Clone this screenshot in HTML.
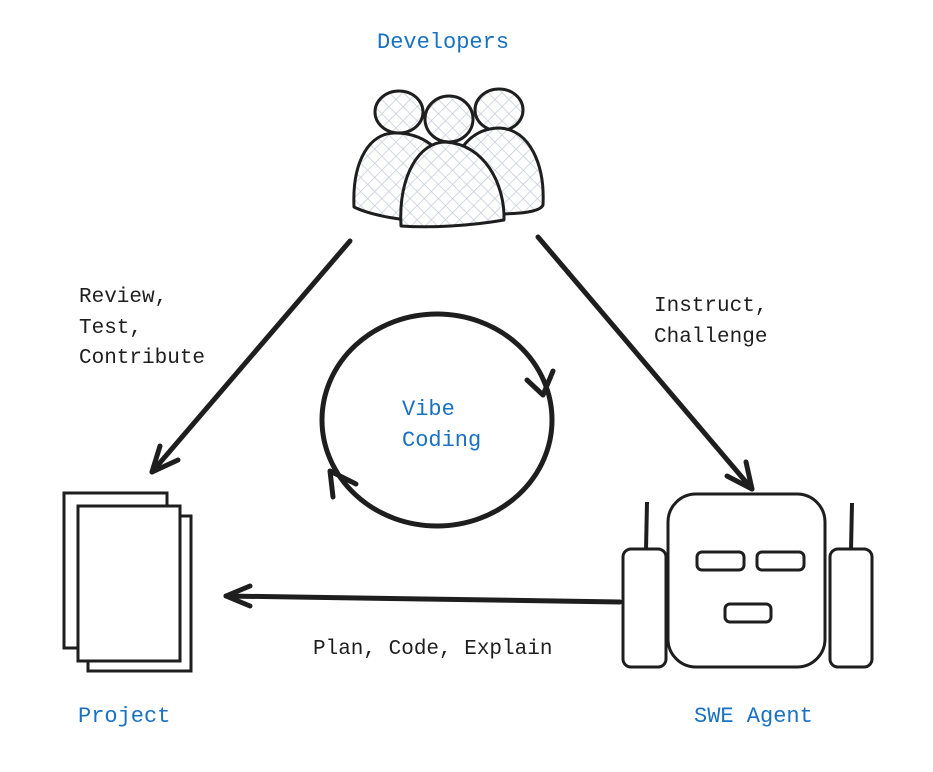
<!DOCTYPE html>
<html><head><meta charset="utf-8"><style>
html,body{margin:0;padding:0;background:#fff;}
svg{display:block}
.b{font-family:"Liberation Mono",monospace;font-size:22px;fill:#1971c2}
.k{font-family:"Liberation Mono",monospace;font-size:21px;fill:#1e1e1e}
</style></head><body>
<svg width="933" height="772" viewBox="0 0 933 772" xmlns="http://www.w3.org/2000/svg">
<defs>
<pattern id="h" width="10" height="10" patternUnits="userSpaceOnUse" patternTransform="rotate(45)">
<rect width="10" height="10" fill="#fff"/>
<path d="M0 0H10M0 0V10" stroke="#c7ccd6" stroke-width="1.5"/>
</pattern>
</defs>
<rect width="933" height="772" fill="#fff"/>
<text class="b" x="377" y="48">Developers</text>
<text class="b" x="78" y="722">Project</text>
<text class="b" x="694" y="722">SWE Agent</text>
<text class="b" x="402" y="415">Vibe</text>
<text class="b" x="402" y="446">Coding</text>
<text class="k" x="79" y="302">Review,</text>
<text class="k" x="79" y="333">Test,</text>
<text class="k" x="79" y="363">Contribute</text>
<text class="k" x="654" y="311">Instruct,</text>
<text class="k" x="654" y="342">Challenge</text>
<text class="k" x="313" y="654">Plan, Code, Explain</text>

<g stroke="#1e1e1e" stroke-width="3" fill="url(#h)" stroke-linejoin="round">
<ellipse cx="399" cy="112" rx="24" ry="21"/>
<ellipse cx="499" cy="110" rx="24" ry="21"/>
<path d="M354 207 C352 160 370 133 395 133 C425 133 440 150 452 170 L440 222 C405 222 370 215 354 207Z"/>
<path d="M455 160 C465 138 480 128 500 128 C530 130 545 165 543 205 C540 212 520 214 495 214 Z"/>
<ellipse cx="449" cy="119" rx="24" ry="23"/>
<path d="M401 226 C398 175 420 142 445 142 C485 144 505 185 504 220 C470 226 430 228 401 226Z"/>
</g>

<g stroke="#1e1e1e" stroke-width="3" fill="#fff">
<rect x="64" y="493" width="103" height="155"/>
<rect x="88" y="516" width="103" height="155"/>
<rect x="78" y="506" width="102" height="155"/>
</g>

<g stroke="#1e1e1e" stroke-width="3" fill="#fff">
<line x1="647" y1="502" x2="646" y2="550" stroke-width="4"/>
<line x1="852" y1="503" x2="851" y2="550" stroke-width="4"/>
<rect x="623" y="549" width="43" height="118" rx="8"/>
<rect x="830" y="549" width="42" height="118" rx="8"/>
<rect x="668" y="494" width="157" height="173" rx="28"/>
<rect x="697" y="552" width="47" height="18" rx="5"/>
<rect x="757" y="552" width="47" height="18" rx="5"/>
<rect x="725" y="604" width="46" height="18" rx="5"/>
</g>

<g stroke="#1e1e1e" stroke-width="5" fill="none" stroke-linecap="round" stroke-linejoin="round">
<path d="M350 241 L152 472"/>
<path d="M152 472 L160 446 M152 472 L178 460"/>
<path d="M538 237 L752 489"/>
<path d="M752 489 L727 476 M752 489 L746 462"/>
<path d="M620 602 L226 596"/>
<path d="M226 596 L250 586 M226 596 L250 606"/>
<ellipse cx="437" cy="420" rx="115" ry="106"/>
<path d="M527 380 L543 395 L553 371" stroke-width="5"/>
<path d="M333 497 L330 471 L356 484" stroke-width="5"/>
</g>
</svg>
</body></html>
